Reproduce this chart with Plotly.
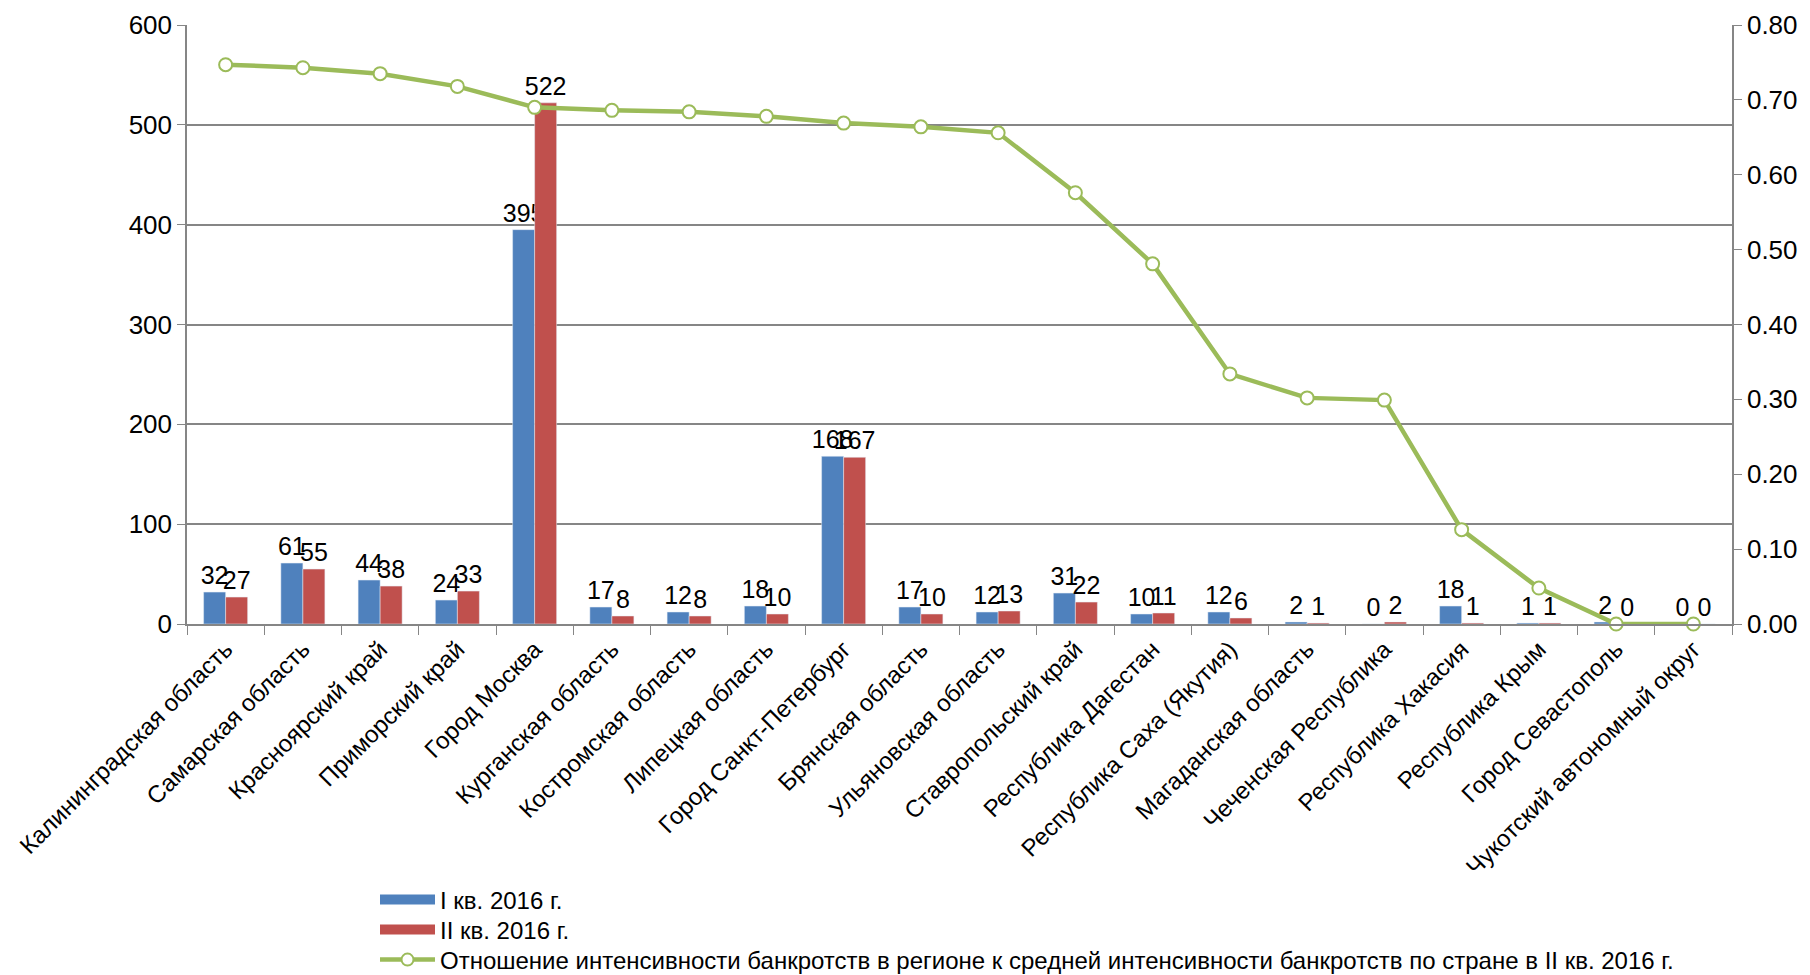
import plotly.graph_objects as go

categories = [
    "Калининградская область", "Самарская область", "Красноярский край",
    "Приморский край", "Город Москва", "Курганская область",
    "Костромская область", "Липецкая область", "Город Санкт-Петербург",
    "Брянская область", "Ульяновская область", "Ставропольский край",
    "Республика Дагестан", "Республика Саха (Якутия)", "Магаданская область",
    "Чеченская Республика", "Республика Хакасия", "Республика Крым",
    "Город Севастополь", "Чукотский автономный округ",
]
q1_2016 = [32, 61, 44, 24, 395, 17, 12, 18, 168, 17, 12, 31, 10, 12, 2, 0, 18, 1, 2, 0]
q2_2016 = [27, 55, 38, 33, 522, 8, 8, 10, 167, 10, 13, 22, 11, 6, 1, 2, 1, 1, 0, 0]
ratio = [0.747, 0.743, 0.735, 0.718, 0.690, 0.686, 0.684, 0.678, 0.669, 0.664,
         0.656, 0.576, 0.481, 0.334, 0.302, 0.299, 0.126, 0.048, 0.0, 0.0]

name_q1 = "I кв. 2016 г."
name_q2 = "II кв. 2016 г."
name_ratio = ("Отношение интенсивности банкротств в регионе к средней интенсивности "
              "банкротств по стране в II кв. 2016 г.")

FONT = "Liberation Sans, Arial, sans-serif"
GRID = "#868686"
BLUE = "#4F81BD"
RED = "#C0504D"
GREEN = "#9BBB59"
W, H = 1810, 975

fig = go.Figure()
fig.add_trace(go.Bar(
    x=categories, y=q1_2016, name=name_q1, marker_color=BLUE,
    text=[str(v) for v in q1_2016], textposition="outside",
    textfont=dict(size=25, color="#000000", family=FONT),
    cliponaxis=False, constraintext="none", showlegend=False,
))
fig.add_trace(go.Bar(
    x=categories, y=q2_2016, name=name_q2, marker_color=RED,
    text=[str(v) for v in q2_2016], textposition="outside",
    textfont=dict(size=25, color="#000000", family=FONT),
    cliponaxis=False, constraintext="none", showlegend=False,
))
fig.add_trace(go.Scatter(
    x=categories, y=ratio, name=name_ratio, yaxis="y2", mode="lines+markers",
    line=dict(color=GREEN, width=4.5),
    marker=dict(symbol="circle", size=13, color="#ffffff",
                line=dict(color=GREEN, width=2)),
    cliponaxis=False, showlegend=False,
))
# legend entries (wide rectangular swatches as in the reference)
fig.add_trace(go.Scatter(x=[None], y=[None], name=name_q1, mode="lines",
                         line=dict(color=BLUE, width=15), legend="legend"))
fig.add_trace(go.Scatter(x=[None], y=[None], name=name_q2, mode="lines",
                         line=dict(color=RED, width=15), legend="legend2"))
fig.add_trace(go.Scatter(x=[None], y=[None], name=name_ratio, mode="lines+markers",
                         line=dict(color=GREEN, width=4.5),
                         marker=dict(symbol="circle", size=12, color="#ffffff",
                                     line=dict(color=GREEN, width=2)),
                         legend="legend3"))


def legend_at(py):
    return dict(
        x=375 / W, y=1 - py / H, xref="container", yref="container",
        xanchor="left", yanchor="middle", orientation="v",
        font=dict(size=24, family=FONT), itemwidth=55,
        bgcolor="rgba(0,0,0,0)",
    )


fig.update_layout(
    width=W, height=H,
    paper_bgcolor="#ffffff", plot_bgcolor="#ffffff",
    font=dict(family=FONT, size=24, color="#000000"),
    margin=dict(l=187, r=78, t=25, b=351, autoexpand=False),
    barmode="group", bargap=0.43, bargroupgap=0.0,
    showlegend=True,
    legend=legend_at(900),
    legend2=legend_at(930),
    legend3=legend_at(960),
    xaxis=dict(
        type="category", range=[-0.5, len(categories) - 0.5],
        tickangle=-45, tickfont=dict(size=24, family=FONT),
        showline=True, linecolor=GRID, linewidth=1.5, automargin=False,
        ticks="outside", tickson="boundaries", ticklen=9, tickcolor=GRID,
        showgrid=False, zeroline=False,
    ),
    yaxis=dict(
        range=[0, 600], dtick=100, tickfont=dict(size=26, family=FONT),
        showline=True, linecolor=GRID, linewidth=1.5, automargin=False,
        ticks="outside", ticklen=8, tickcolor=GRID,
        showgrid=True, gridcolor=GRID, gridwidth=1.5,
        zeroline=False,
    ),
    yaxis2=dict(
        range=[0, 0.8], dtick=0.1, tickformat=".2f", overlaying="y", side="right",
        tickfont=dict(size=26, family=FONT), automargin=False,
        showline=True, linecolor=GRID, linewidth=1.5,
        ticks="outside", ticklen=8, tickcolor=GRID,
        showgrid=False, zeroline=False,
    ),
)

fig.write_html(
    "out.html",
    config={"displayModeBar": False},
    post_script="document.body.style.margin='0';document.body.style.overflow='hidden';",
)
